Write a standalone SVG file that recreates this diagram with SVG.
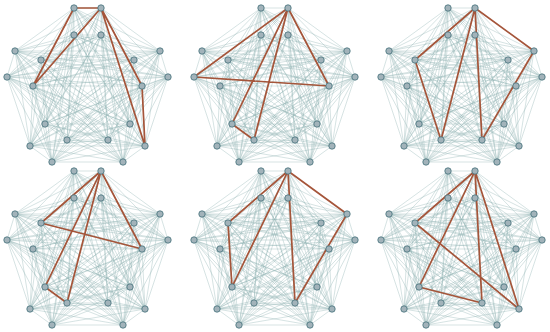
<svg xmlns="http://www.w3.org/2000/svg" xmlns:xlink="http://www.w3.org/1999/xlink" width="550" height="332" viewBox="0 0 550 332">
<style>
.k{fill:none;stroke:#8aaeae;stroke-width:0.5;stroke-opacity:0.7}
.r{fill:none;stroke:#a5553a;stroke-width:1.7;stroke-linejoin:round}
.n circle{fill:#a2b3ba;stroke:#44707a;stroke-width:0.8}
</style>
<defs>
<path id="K" class="k" d="M74 8 101 8M74 8 74 35M74 8 101 35M74 8 15 51M74 8 7 77M74 8 41 60M74 8 33 86M74 8 160 51M74 8 168 77M74 8 134 60M74 8 142 86M74 8 45 124M74 8 67 140M74 8 30 146M74 8 52 162M74 8 130 124M74 8 108 140M74 8 145 146M74 8 123 162
M101 8 74 35M101 8 101 35M101 8 15 51M101 8 7 77M101 8 41 60M101 8 33 86M101 8 160 51M101 8 168 77M101 8 134 60M101 8 142 86M101 8 45 124M101 8 67 140M101 8 30 146M101 8 52 162M101 8 130 124M101 8 108 140M101 8 145 146M101 8 123 162
M74 35 101 35M74 35 15 51M74 35 7 77M74 35 41 60M74 35 33 86M74 35 160 51M74 35 168 77M74 35 134 60M74 35 142 86M74 35 45 124M74 35 67 140M74 35 30 146M74 35 52 162M74 35 130 124M74 35 108 140M74 35 145 146M74 35 123 162
M101 35 15 51M101 35 7 77M101 35 41 60M101 35 33 86M101 35 160 51M101 35 168 77M101 35 134 60M101 35 142 86M101 35 45 124M101 35 67 140M101 35 30 146M101 35 52 162M101 35 130 124M101 35 108 140M101 35 145 146M101 35 123 162
M15 51 7 77M15 51 41 60M15 51 33 86M15 51 160 51M15 51 168 77M15 51 134 60M15 51 142 86M15 51 45 124M15 51 67 140M15 51 30 146M15 51 52 162M15 51 130 124M15 51 108 140M15 51 145 146M15 51 123 162
M7 77 41 60M7 77 33 86M7 77 160 51M7 77 168 77M7 77 134 60M7 77 142 86M7 77 45 124M7 77 67 140M7 77 30 146M7 77 52 162M7 77 130 124M7 77 108 140M7 77 145 146M7 77 123 162
M41 60 33 86M41 60 160 51M41 60 168 77M41 60 134 60M41 60 142 86M41 60 45 124M41 60 67 140M41 60 30 146M41 60 52 162M41 60 130 124M41 60 108 140M41 60 145 146M41 60 123 162
M33 86 160 51M33 86 168 77M33 86 134 60M33 86 142 86M33 86 45 124M33 86 67 140M33 86 30 146M33 86 52 162M33 86 130 124M33 86 108 140M33 86 145 146M33 86 123 162
M160 51 168 77M160 51 134 60M160 51 142 86M160 51 45 124M160 51 67 140M160 51 30 146M160 51 52 162M160 51 130 124M160 51 108 140M160 51 145 146M160 51 123 162
M168 77 134 60M168 77 142 86M168 77 45 124M168 77 67 140M168 77 30 146M168 77 52 162M168 77 130 124M168 77 108 140M168 77 145 146M168 77 123 162
M134 60 142 86M134 60 45 124M134 60 67 140M134 60 30 146M134 60 52 162M134 60 130 124M134 60 108 140M134 60 145 146M134 60 123 162
M142 86 45 124M142 86 67 140M142 86 30 146M142 86 52 162M142 86 130 124M142 86 108 140M142 86 145 146M142 86 123 162
M45 124 67 140M45 124 30 146M45 124 52 162M45 124 130 124M45 124 108 140M45 124 145 146M45 124 123 162
M67 140 30 146M67 140 52 162M67 140 130 124M67 140 108 140M67 140 145 146M67 140 123 162
M30 146 52 162M30 146 130 124M30 146 108 140M30 146 145 146M30 146 123 162
M52 162 130 124M52 162 108 140M52 162 145 146M52 162 123 162
M130 124 108 140M130 124 145 146M130 124 123 162
M108 140 145 146M108 140 123 162
M145 146 123 162"/>
</defs>
<rect width="550" height="332" fill="#ffffff"/>

<g id="graph1" transform="translate(0,0)">
<g id="graph1-connectors"><use href="#K"/><path class="r" d="M74 8 101 8 33 86ZM101 8 142 86 145 146Z"/></g>
<g class="n">
<g id="g1n0"><circle cx="74" cy="8" r="3.2"/></g><g id="g1n1"><circle cx="101" cy="8" r="3.2"/></g>
<g id="g1n2"><circle cx="74" cy="35" r="3.2"/></g><g id="g1n3"><circle cx="101" cy="35" r="3.2"/></g>
<g id="g1n4"><circle cx="15" cy="51" r="3.2"/></g><g id="g1n5"><circle cx="7" cy="77" r="3.2"/></g>
<g id="g1n6"><circle cx="41" cy="60" r="3.2"/></g><g id="g1n7"><circle cx="33" cy="86" r="3.2"/></g>
<g id="g1n8"><circle cx="160" cy="51" r="3.2"/></g><g id="g1n9"><circle cx="168" cy="77" r="3.2"/></g>
<g id="g1n10"><circle cx="134" cy="60" r="3.2"/></g><g id="g1n11"><circle cx="142" cy="86" r="3.2"/></g>
<g id="g1n12"><circle cx="45" cy="124" r="3.2"/></g><g id="g1n13"><circle cx="67" cy="140" r="3.2"/></g>
<g id="g1n14"><circle cx="30" cy="146" r="3.2"/></g><g id="g1n15"><circle cx="52" cy="162" r="3.2"/></g>
<g id="g1n16"><circle cx="130" cy="124" r="3.2"/></g><g id="g1n17"><circle cx="108" cy="140" r="3.2"/></g>
<g id="g1n18"><circle cx="145" cy="146" r="3.2"/></g><g id="g1n19"><circle cx="123" cy="162" r="3.2"/></g>
</g>
</g>

<g id="graph2" transform="translate(187,0)">
<g id="graph2-connectors"><use href="#K"/><path class="r" d="M101 8 7 77 142 86ZM101 8 45 124 67 140Z"/></g>
<g class="n">
<g id="g2n0"><circle cx="74" cy="8" r="3.2"/></g><g id="g2n1"><circle cx="101" cy="8" r="3.2"/></g>
<g id="g2n2"><circle cx="74" cy="35" r="3.2"/></g><g id="g2n3"><circle cx="101" cy="35" r="3.2"/></g>
<g id="g2n4"><circle cx="15" cy="51" r="3.2"/></g><g id="g2n5"><circle cx="7" cy="77" r="3.2"/></g>
<g id="g2n6"><circle cx="41" cy="60" r="3.2"/></g><g id="g2n7"><circle cx="33" cy="86" r="3.2"/></g>
<g id="g2n8"><circle cx="160" cy="51" r="3.2"/></g><g id="g2n9"><circle cx="168" cy="77" r="3.2"/></g>
<g id="g2n10"><circle cx="134" cy="60" r="3.2"/></g><g id="g2n11"><circle cx="142" cy="86" r="3.2"/></g>
<g id="g2n12"><circle cx="45" cy="124" r="3.2"/></g><g id="g2n13"><circle cx="67" cy="140" r="3.2"/></g>
<g id="g2n14"><circle cx="30" cy="146" r="3.2"/></g><g id="g2n15"><circle cx="52" cy="162" r="3.2"/></g>
<g id="g2n16"><circle cx="130" cy="124" r="3.2"/></g><g id="g2n17"><circle cx="108" cy="140" r="3.2"/></g>
<g id="g2n18"><circle cx="145" cy="146" r="3.2"/></g><g id="g2n19"><circle cx="123" cy="162" r="3.2"/></g>
</g>
</g>

<g id="graph3" transform="translate(374,0)">
<g id="graph3-connectors"><use href="#K"/><path class="r" d="M101 8 41 60 67 140ZM101 8 108 140 160 51Z"/></g>
<g class="n">
<g id="g3n0"><circle cx="74" cy="8" r="3.2"/></g><g id="g3n1"><circle cx="101" cy="8" r="3.2"/></g>
<g id="g3n2"><circle cx="74" cy="35" r="3.2"/></g><g id="g3n3"><circle cx="101" cy="35" r="3.2"/></g>
<g id="g3n4"><circle cx="15" cy="51" r="3.2"/></g><g id="g3n5"><circle cx="7" cy="77" r="3.2"/></g>
<g id="g3n6"><circle cx="41" cy="60" r="3.2"/></g><g id="g3n7"><circle cx="33" cy="86" r="3.2"/></g>
<g id="g3n8"><circle cx="160" cy="51" r="3.2"/></g><g id="g3n9"><circle cx="168" cy="77" r="3.2"/></g>
<g id="g3n10"><circle cx="134" cy="60" r="3.2"/></g><g id="g3n11"><circle cx="142" cy="86" r="3.2"/></g>
<g id="g3n12"><circle cx="45" cy="124" r="3.2"/></g><g id="g3n13"><circle cx="67" cy="140" r="3.2"/></g>
<g id="g3n14"><circle cx="30" cy="146" r="3.2"/></g><g id="g3n15"><circle cx="52" cy="162" r="3.2"/></g>
<g id="g3n16"><circle cx="130" cy="124" r="3.2"/></g><g id="g3n17"><circle cx="108" cy="140" r="3.2"/></g>
<g id="g3n18"><circle cx="145" cy="146" r="3.2"/></g><g id="g3n19"><circle cx="123" cy="162" r="3.2"/></g>
</g>
</g>

<g id="graph4" transform="translate(0,163)">
<g id="graph4-connectors"><use href="#K"/><path class="r" d="M101 8 41 60 142 86ZM101 8 45 124 67 140Z"/></g>
<g class="n">
<g id="g4n0"><circle cx="74" cy="8" r="3.2"/></g><g id="g4n1"><circle cx="101" cy="8" r="3.2"/></g>
<g id="g4n2"><circle cx="74" cy="35" r="3.2"/></g><g id="g4n3"><circle cx="101" cy="35" r="3.2"/></g>
<g id="g4n4"><circle cx="15" cy="51" r="3.2"/></g><g id="g4n5"><circle cx="7" cy="77" r="3.2"/></g>
<g id="g4n6"><circle cx="41" cy="60" r="3.2"/></g><g id="g4n7"><circle cx="33" cy="86" r="3.2"/></g>
<g id="g4n8"><circle cx="160" cy="51" r="3.2"/></g><g id="g4n9"><circle cx="168" cy="77" r="3.2"/></g>
<g id="g4n10"><circle cx="134" cy="60" r="3.2"/></g><g id="g4n11"><circle cx="142" cy="86" r="3.2"/></g>
<g id="g4n12"><circle cx="45" cy="124" r="3.2"/></g><g id="g4n13"><circle cx="67" cy="140" r="3.2"/></g>
<g id="g4n14"><circle cx="30" cy="146" r="3.2"/></g><g id="g4n15"><circle cx="52" cy="162" r="3.2"/></g>
<g id="g4n16"><circle cx="130" cy="124" r="3.2"/></g><g id="g4n17"><circle cx="108" cy="140" r="3.2"/></g>
<g id="g4n18"><circle cx="145" cy="146" r="3.2"/></g><g id="g4n19"><circle cx="123" cy="162" r="3.2"/></g>
</g>
</g>

<g id="graph5" transform="translate(187,163)">
<g id="graph5-connectors"><use href="#K"/><path class="r" d="M101 8 41 60 45 124ZM101 8 108 140 160 51Z"/></g>
<g class="n">
<g id="g5n0"><circle cx="74" cy="8" r="3.2"/></g><g id="g5n1"><circle cx="101" cy="8" r="3.2"/></g>
<g id="g5n2"><circle cx="74" cy="35" r="3.2"/></g><g id="g5n3"><circle cx="101" cy="35" r="3.2"/></g>
<g id="g5n4"><circle cx="15" cy="51" r="3.2"/></g><g id="g5n5"><circle cx="7" cy="77" r="3.2"/></g>
<g id="g5n6"><circle cx="41" cy="60" r="3.2"/></g><g id="g5n7"><circle cx="33" cy="86" r="3.2"/></g>
<g id="g5n8"><circle cx="160" cy="51" r="3.2"/></g><g id="g5n9"><circle cx="168" cy="77" r="3.2"/></g>
<g id="g5n10"><circle cx="134" cy="60" r="3.2"/></g><g id="g5n11"><circle cx="142" cy="86" r="3.2"/></g>
<g id="g5n12"><circle cx="45" cy="124" r="3.2"/></g><g id="g5n13"><circle cx="67" cy="140" r="3.2"/></g>
<g id="g5n14"><circle cx="30" cy="146" r="3.2"/></g><g id="g5n15"><circle cx="52" cy="162" r="3.2"/></g>
<g id="g5n16"><circle cx="130" cy="124" r="3.2"/></g><g id="g5n17"><circle cx="108" cy="140" r="3.2"/></g>
<g id="g5n18"><circle cx="145" cy="146" r="3.2"/></g><g id="g5n19"><circle cx="123" cy="162" r="3.2"/></g>
</g>
</g>

<g id="graph6" transform="translate(374,163)">
<g id="graph6-connectors"><use href="#K"/><path class="r" d="M101 8 41 60 145 146ZM101 8 45 124 108 140Z"/></g>
<g class="n">
<g id="g6n0"><circle cx="74" cy="8" r="3.2"/></g><g id="g6n1"><circle cx="101" cy="8" r="3.2"/></g>
<g id="g6n2"><circle cx="74" cy="35" r="3.2"/></g><g id="g6n3"><circle cx="101" cy="35" r="3.2"/></g>
<g id="g6n4"><circle cx="15" cy="51" r="3.2"/></g><g id="g6n5"><circle cx="7" cy="77" r="3.2"/></g>
<g id="g6n6"><circle cx="41" cy="60" r="3.2"/></g><g id="g6n7"><circle cx="33" cy="86" r="3.2"/></g>
<g id="g6n8"><circle cx="160" cy="51" r="3.2"/></g><g id="g6n9"><circle cx="168" cy="77" r="3.2"/></g>
<g id="g6n10"><circle cx="134" cy="60" r="3.2"/></g><g id="g6n11"><circle cx="142" cy="86" r="3.2"/></g>
<g id="g6n12"><circle cx="45" cy="124" r="3.2"/></g><g id="g6n13"><circle cx="67" cy="140" r="3.2"/></g>
<g id="g6n14"><circle cx="30" cy="146" r="3.2"/></g><g id="g6n15"><circle cx="52" cy="162" r="3.2"/></g>
<g id="g6n16"><circle cx="130" cy="124" r="3.2"/></g><g id="g6n17"><circle cx="108" cy="140" r="3.2"/></g>
<g id="g6n18"><circle cx="145" cy="146" r="3.2"/></g><g id="g6n19"><circle cx="123" cy="162" r="3.2"/></g>
</g>
</g>
</svg>
